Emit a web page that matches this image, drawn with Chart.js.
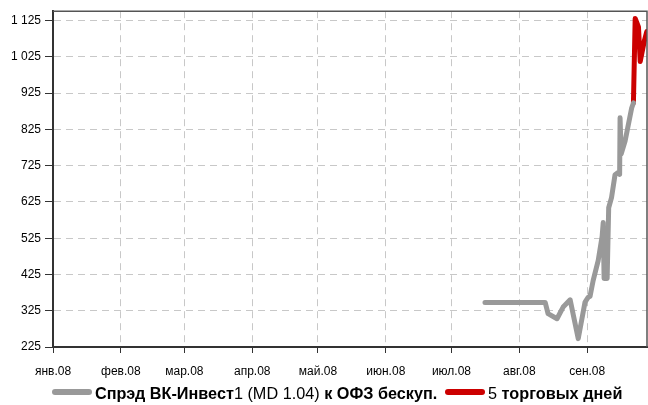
<!DOCTYPE html>
<html>
<head>
<meta charset="utf-8">
<script src="https://cdn.jsdelivr.net/npm/chart.js@4/dist/chart.umd.min.js"></script>
<style>
    html, body { margin: 0; padding: 0; background: #fff; }
    #wrap { position: relative; width: 648px; height: 405px; }
    #legend { position: absolute; left: 0; top: 0; width: 648px; height: 405px; pointer-events: none;
              font-family: 'Liberation Sans', Arial, sans-serif;
              font-size: 17px; color: #000; }
    #legend .swatch { position: absolute; top: 389px; width: 40px; height: 6px; border-radius: 3px; }
    #legend .txt { position: absolute; top: 384px; line-height: 20px; white-space: nowrap; font-weight: bold;
                   transform-origin: 0 50%; }
    #legend .txt span { font-weight: normal; }
</style>
</head>
<body>
<div id="wrap">
    <canvas id="spreadChart" width="648" height="405"></canvas>
    <div id="legend">
        <div class="swatch" style="left:52px; background:#999999"></div>
        <div class="txt" id="legendText1" style="left:95px">Спрэд ВК-Инвест<span>1 (MD 1.04)</span> к ОФЗ бескуп.</div>
        <div class="swatch" style="left:445px; background:#cc0000"></div>
        <div class="txt" id="legendText2" style="left:488px"><span>5</span> торговых дней</div>
    </div>
</div>
<script>
// days counted from 1 Jan 2008
const monthTicks = [0, 31, 60, 91, 121, 152, 182, 213, 244];
const monthLabels = ['янв.08', 'фев.08', 'мар.08', 'апр.08', 'май.08', 'июн.08', 'июл.08', 'авг.08', 'сен.08'];
const yTicks = [225, 325, 425, 525, 625, 725, 825, 925, 1025, 1125];

// spread, bp
const spreadDays = [197.3, 224.8, 226.1, 230.2, 233.0, 236.2, 239.9, 243.0, 244.4, 245.3,
    246.7, 249.0, 250.8, 251.3, 251.7, 253.1, 253.8, 255.1, 256.7, 258.1,
    258.8, 259.0, 259.5, 261.3, 264.3, 265.1];
const spreadValues = [348, 348, 317, 303, 335, 355, 248, 349, 362, 365,
    408, 463, 530, 568, 414, 414, 609, 637, 700, 706,
    701, 857, 757, 793, 884, 898];

// last 5 trading days
const lastDays = [265.1, 265.9, 267.4, 268.2, 270.0, 271.2];
const lastValues = [898, 1131, 1108, 1012, 1067, 1095];

const FONT = "'Liberation Sans', Arial, sans-serif";

const toPoints = (xs, ys) => xs.map((x, i) => ({ x: x, y: ys[i] }));

const formatThousands = (v) => v >= 1000
    ? Math.floor(v / 1000) + ' ' + String(v % 1000).padStart(3, '0')
    : String(v);

// narrow look for the legend text: squeeze to the width seen in the original
const squeeze = (id, targetWidth) => {
    const el = document.getElementById(id);
    el.style.transform = 'scaleX(' + (targetWidth / el.offsetWidth) + ')';
};
squeeze('legendText1', 342);
squeeze('legendText2', 134);

// top and right frame lines
const frame = {
    id: 'frame',
    afterDraw(chart) {
        const { ctx, chartArea: a } = chart;
        ctx.save();
        ctx.strokeStyle = '#555';
        ctx.lineWidth = 1.5;
        ctx.beginPath();
        ctx.moveTo(a.left, a.top);
        ctx.lineTo(a.right, a.top);
        ctx.lineTo(a.right, a.bottom);
        ctx.stroke();
        ctx.restore();
    }
};

new Chart(document.getElementById('spreadChart').getContext('2d'), {
    type: 'line',
    data: {
        datasets: [
            {
                label: 'Спрэд ВК-Инвест1 (MD 1.04) к ОФЗ бескуп.',
                data: toPoints(spreadDays, spreadValues),
                borderColor: '#999999',
                borderWidth: 5,
                pointRadius: 0,
                borderJoinStyle: 'round',
                borderCapStyle: 'round',
                tension: 0
            },
            {
                label: '5 торговых дней',
                data: toPoints(lastDays, lastValues),
                borderColor: '#cc0000',
                borderWidth: 5,
                pointRadius: 0,
                borderJoinStyle: 'round',
                borderCapStyle: 'round',
                tension: 0
            }
        ]
    },
    options: {
        responsive: false,
        animation: false,
        layout: { padding: { left: 0, right: 1, top: 9, bottom: 0 } },
        plugins: {
            legend: { display: false },
            tooltip: { enabled: false }
        },
        scales: {
            x: {
                type: 'linear',
                min: 0,
                max: 271.3,
                afterBuildTicks: (scale) => { scale.ticks = monthTicks.map(v => ({ value: v })); },
                afterFit: (scale) => { scale.height = 58; },
                grid: { color: '#c8c8c8', lineWidth: 1, tickLength: 6, tickColor: '#333', tickWidth: 1 },
                border: { color: '#333', width: 2, dash: [7, 5] },
                ticks: {
                    autoSkip: false,
                    maxRotation: 0,
                    padding: 11,
                    color: '#000',
                    font: { family: FONT, size: 12 },
                    callback: (value) => monthLabels[monthTicks.indexOf(value)]
                }
            },
            y: {
                type: 'linear',
                min: 225,
                max: 1151,
                afterBuildTicks: (scale) => { scale.ticks = yTicks.map(v => ({ value: v })); },
                afterFit: (scale) => { scale.width = 53; },
                grid: { color: '#c8c8c8', lineWidth: 1, tickLength: 8, tickColor: '#333', tickWidth: 1 },
                border: { color: '#333', width: 2, dash: [7, 5] },
                ticks: {
                    padding: 4,
                    color: '#000',
                    font: { family: FONT, size: 12 },
                    callback: (value) => formatThousands(value)
                }
            }
        }
    },
    plugins: [frame]
});
</script>
</body>
</html>
